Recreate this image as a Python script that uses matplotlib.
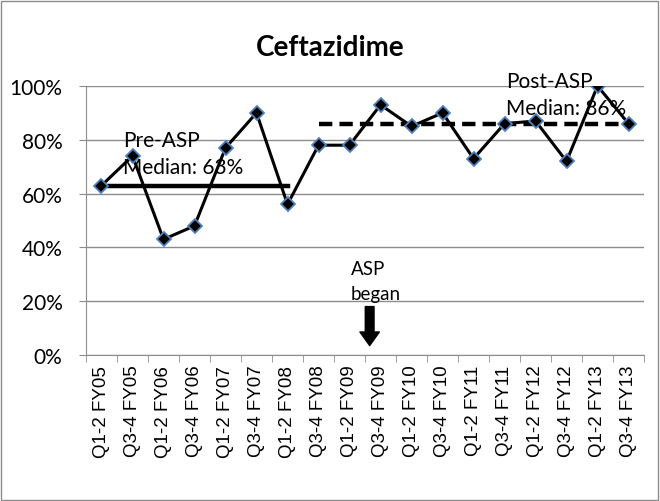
import matplotlib.pyplot as plt
from matplotlib.patches import Rectangle

categories = ["Q1-2 FY05", "Q3-4 FY05", "Q1-2 FY06", "Q3-4 FY06", "Q1-2 FY07",
              "Q3-4 FY07", "Q1-2 FY08", "Q3-4 FY08", "Q1-2 FY09", "Q3-4 FY09",
              "Q1-2 FY10", "Q3-4 FY10", "Q1-2 FY11", "Q3-4 FY11", "Q1-2 FY12",
              "Q3-4 FY12", "Q1-2 FY13", "Q3-4 FY13"]
values = [63, 74, 43, 48, 77, 90, 56, 78, 78, 93, 85, 90, 73, 86, 87, 72, 100, 86]
pre_median = 63
post_median = 86
pre_range = (0, 6)
post_range = (7, 17)
asp_start = 8.65

fig = plt.figure(figsize=(6.6, 5.02), dpi=100)
ax = fig.add_axes([0.1303, 0.2908, 0.8455, 0.5359])

grid_c = "#8c8c8c"
x = list(range(len(categories)))
ax.plot(x, values, color="black", lw=2.2, marker="D", markersize=7,
        markerfacecolor="black", markeredgecolor="#4f81bd", markeredgewidth=1.3, zorder=4)
ax.plot(pre_range, [pre_median] * 2, color="black", lw=3.2, zorder=3)
ax.plot(post_range, [post_median] * 2, color="black", lw=3.2, ls=(0, (3, 1.6)), zorder=3)

ax.set_xlim(-0.5, len(categories) - 0.5)
ax.set_ylim(0, 100)
ax.set_yticks(range(0, 101, 20))
ax.set_yticklabels([f"{v}%" for v in range(0, 101, 20)], family="Lato", fontsize=15)
ax.set_xticks(x)
ax.set_xticklabels(categories, rotation=90, family="Liberation Sans", fontsize=13.5)
ax.set_xticks([i - 0.5 for i in range(len(categories) + 1)], minor=True)
ax.tick_params(axis="x", which="major", length=0, pad=7)
ax.tick_params(axis="x", which="minor", length=5, color=grid_c, direction="out")
ax.tick_params(axis="y", length=5, color=grid_c, pad=12)
ax.grid(axis="y", color=grid_c, lw=1)
ax.set_axisbelow(True)
for s in ["top", "right"]:
    ax.spines[s].set_visible(False)
for s in ["left", "bottom"]:
    ax.spines[s].set_color(grid_c)

ax.text(0.7, 80, "Pre-ASP", family="Lato", fontsize=15, va="center", zorder=5)
ax.text(0.7, 70, "Median: 63%", family="Lato", fontsize=15, va="center", zorder=5)
ax.text(13.06, 101.9, "Post-ASP", family="Lato", fontsize=15, va="center", zorder=5)
ax.text(13.06, 91.8, "Median: 86%", family="Lato", fontsize=15, va="center", zorder=5)
ax.text(8.05, 32, "ASP", family="Lato", fontsize=13.5, va="center")
ax.text(8.05, 22.7, "began", family="Lato", fontsize=13.5, va="center")
ax.annotate("", xy=(asp_start, 3.5), xytext=(asp_start, 18),
            arrowprops=dict(arrowstyle="simple,head_length=0.7,head_width=1.0,tail_width=0.45",
                            color="black", mutation_scale=14, shrinkA=0, shrinkB=0))

fig.text(0.5, 0.905, "Ceftazidime", family="Lato", fontweight="bold", fontsize=20,
         ha="center", va="center")
fig.patches.append(Rectangle((0.002, 0.002), 0.995, 0.995, transform=fig.transFigure,
                             fill=False, edgecolor=grid_c, lw=1))

fig.savefig("out.png", dpi=100)
